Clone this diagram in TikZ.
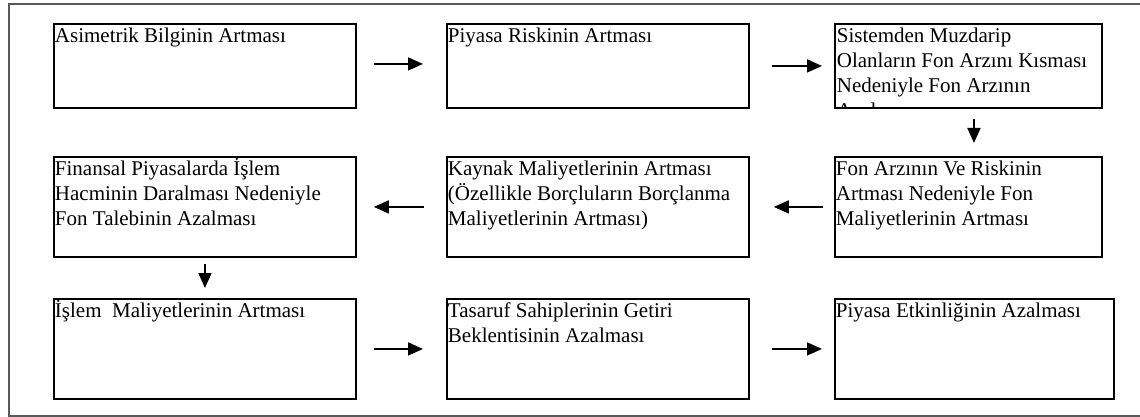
\documentclass[tikz,border=0pt]{standalone}
\usepackage{fontspec}
\setmainfont{Liberation Serif}
\usetikzlibrary{arrows.meta}
\newcommand{\boxtext}[3]{\parbox[t][#2][t]{#1}{\raggedright\fontsize{21pt}{25pt}\selectfont\vspace*{1pt}\hspace*{1pt}\strut\ignorespaces#3}}
\tikzset{
  stepbox/.style={draw, line width=1.9pt, inner sep=0pt, anchor=north west},
  flowarrow/.style={line width=1.6pt, -{Triangle[length=15pt,width=13pt]}},
}
\begin{document}
\begin{tikzpicture}[x=1pt,y=-1pt]
\useasboundingbox (0,0) rectangle (1140,417);
\draw[line width=1.8pt, black!65] (9,4) rectangle (1160,416);
% row 1
\node[stepbox] (b1) at (53,23) {\boxtext{302pt}{84pt}{Asimetrik Bilginin Artması}};
\node[stepbox] (b2) at (446,23) {\boxtext{302pt}{84pt}{Piyasa Riskinin Artması}};
\node[stepbox, minimum width=267pt, minimum height=84pt,
  path picture={\node[anchor=north west, inner sep=0pt] (b3text) at ([yshift=1pt]path picture bounding box.north west) {\boxtext{267pt}{110pt}{Sistemden Muzdarip\\\hspace*{1pt}Olanların Fon Arzını Kısması\\\hspace*{1pt}Nedeniyle Fon Arzının\\\hspace*{1pt}Azalması}};}] (b3) at (834,23) {};
% row 2
\node[stepbox] (b4) at (53,156) {\boxtext{302pt}{100pt}{Finansal Piyasalarda İşlem\\\hspace*{1pt}Hacminin Daralması Nedeniyle\\\hspace*{1pt}Fon Talebinin Azalması}};
\node[stepbox] (b5) at (446,156) {\boxtext{302pt}{100pt}{Kaynak Maliyetlerinin Artması\\\hspace*{1pt}(Özellikle Borçluların Borçlanma\\\hspace*{1pt}Maliyetlerinin Artması)}};
\node[stepbox] (b6) at (834,156) {\boxtext{267pt}{100pt}{Fon Arzının Ve Riskinin\\\hspace*{1pt}Artması Nedeniyle Fon\\\hspace*{1pt}Maliyetlerinin Artması}};
% row 3
\node[stepbox] (b7) at (53,298) {\boxtext{302pt}{100pt}{İşlem\ \ Maliyetlerinin Artması}};
\node[stepbox] (b8) at (446,298) {\boxtext{302pt}{100pt}{Tasaruf Sahiplerinin Getiri\\\hspace*{1pt}Beklentisinin Azalması}};
\node[stepbox] (b9) at (834,298) {\boxtext{279pt}{100pt}{Piyasa Etkinliğinin Azalması}};
% arrows
\draw[flowarrow] ([xshift=17pt,yshift=2pt]b1.east) -- ([xshift=-23pt,yshift=2pt]b2.west);
\draw[flowarrow] ([xshift=22pt]b2.east) -- ([xshift=-12pt]b3.west);
\draw[flowarrow] ([xshift=5.5pt,yshift=-10pt]b3.south) -- ([xshift=5.5pt,yshift=13pt]b3.south |- b6.north);
\draw[flowarrow] ([xshift=-11pt]b6.west) -- ([xshift=24pt]b5.east);
\draw[flowarrow] ([xshift=-22pt]b5.west) -- ([xshift=17pt]b4.east);
\draw[flowarrow] ([yshift=-6pt]b4.south) -- ([yshift=10pt]b7.north);
\draw[flowarrow] ([xshift=17pt]b7.east) -- ([xshift=-23pt]b8.west);
\draw[flowarrow] ([xshift=22pt]b8.east) -- ([xshift=-12pt]b9.west);
\end{tikzpicture}
\end{document}
